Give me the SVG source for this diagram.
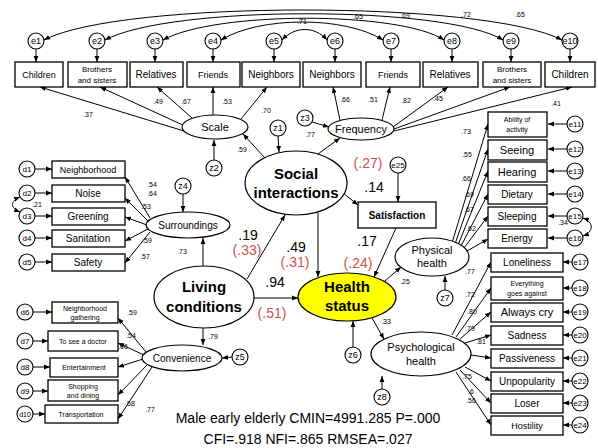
<svg xmlns="http://www.w3.org/2000/svg" width="598" height="448" viewBox="0 0 598 448">
<style>
.bg{fill:#fff}
.box{fill:#fff;stroke:#000;stroke-width:1.3}
.el{fill:#fff;stroke:#000;stroke-width:1.2}
.c{fill:#fff;stroke:#000;stroke-width:1.1}
.hs{fill:#ffff00;stroke:#000;stroke-width:1.2}
.ln{fill:none;stroke:#000;stroke-width:1;marker-end:url(#ah)}
.cv{fill:none;stroke:#000;stroke-width:1;marker-end:url(#ah);marker-start:url(#ah)}
text{font-family:"Liberation Sans",Arial,sans-serif;text-anchor:middle;fill:#000}
.s9{font-size:9px}
.s8{font-size:8px}
.s7{font-size:7px}
.s10{font-size:10px}
.s11{font-size:11px}
.n{font-size:7px}
.big{font-size:15px;font-weight:bold}
.eff{font-size:14px}
.red{font-size:14px;fill:#d0504a}
.ttl{font-size:14px}
</style>
<defs>
<marker id="ah" viewBox="0 0 10 10" refX="10" refY="5" markerWidth="6" markerHeight="6" markerUnits="userSpaceOnUse" orient="auto-start-reverse"><path d="M0,1 L10,5 L0,9 z"/></marker>
</defs>
<rect class="bg" x="0" y="0" width="598" height="448"/>

<g id="connectors">
<!-- top covariances -->
<path class="cv" d="M44,40 C120,0 486,0 562,40"/>
<path class="cv" d="M105,40 C170,5 446,5 503,40"/>
<path class="cv" d="M163,40 C215,11 400,11 444,40"/>
<path class="cv" d="M221,40 C260,16 345,16 383,40"/>
<path class="cv" d="M282,40 C295,26 315,26 327,40"/>
<!-- e to top boxes -->
<path class="ln" d="M36,49 L36,62"/>
<path class="ln" d="M97,49 L97,62"/>
<path class="ln" d="M155,49 L155,62"/>
<path class="ln" d="M213,49 L213,62"/>
<path class="ln" d="M274,49 L274,62"/>
<path class="ln" d="M335,49 L335,62"/>
<path class="ln" d="M391,49 L391,62"/>
<path class="ln" d="M452,49 L452,62"/>
<path class="ln" d="M511,49 L511,62"/>
<path class="ln" d="M570,49 L570,62"/>
<!-- Scale to boxes -->
<path class="ln" d="M184,131 L40,87"/>
<path class="ln" d="M185,126 L100,87"/>
<path class="ln" d="M192,118 L157,87"/>
<path class="ln" d="M213,115 L213,87"/>
<path class="ln" d="M241,119 L267,87"/>
<!-- Frequency to boxes -->
<path class="ln" d="M340,120 L333,87"/>
<path class="ln" d="M382,120 L390,87"/>
<path class="ln" d="M393,127 L448,87"/>
<path class="ln" d="M394,129 L510,87"/>
<path class="ln" d="M394,131 L572,87"/>
<!-- z arrows -->
<path class="ln" d="M278,136 L279,152"/>
<path class="ln" d="M214,160 L214,140"/>
<path class="ln" d="M312,122 L329,127"/>
<path class="ln" d="M265,158 L243,134"/>
<path class="ln" d="M318,154 L340,138"/>
<path class="ln" d="M398,173 L398,202"/>
<path class="ln" d="M343,193 L358,205"/>
<path class="ln" d="M318,213 L318,277"/>
<path class="ln" d="M396,228 L374,277"/>
<path class="ln" d="M247,279 L285,215"/>
<path class="ln" d="M254,298 L298,298"/>
<path class="ln" d="M203,266 L203,238"/>
<path class="ln" d="M203,328 L203,345"/>
<path class="ln" d="M183,194 L183,212"/>
<path class="ln" d="M232,357 L222,358"/>
<path class="ln" d="M385,281 L401,267"/>
<path class="ln" d="M445,290 L445,276"/>
<path class="ln" d="M372,318 L384,339"/>
<path class="ln" d="M353,347 L353,321"/>
<path class="ln" d="M382,389 L382,376"/>
<!-- Physical to indicators -->
<path class="ln" d="M452,243 L488,124"/>
<path class="ln" d="M455,244 L488,149"/>
<path class="ln" d="M458,245 L488,171"/>
<path class="ln" d="M461,246 L488,194"/>
<path class="ln" d="M464,248 L488,216"/>
<path class="ln" d="M467,251 L488,239"/>
<!-- e to physical boxes -->
<path class="ln" d="M567,124 L548,124"/>
<path class="ln" d="M567,149 L548,149"/>
<path class="ln" d="M567,171 L548,171"/>
<path class="ln" d="M567,194 L548,194"/>
<path class="ln" d="M567,216 L548,216"/>
<path class="ln" d="M567,238 L548,238"/>
<path class="cv" d="M583,218 C594,222 594,232 583,236"/>
<!-- Psych to indicators -->
<path class="ln" d="M452,335 L491,262"/>
<path class="ln" d="M456,337 L491,288"/>
<path class="ln" d="M460,339 L491,312"/>
<path class="ln" d="M465,343 L491,335"/>
<path class="ln" d="M471,355 L491,358"/>
<path class="ln" d="M465,367 L491,381"/>
<path class="ln" d="M460,370 L491,403"/>
<path class="ln" d="M456,372 L491,425"/>
<!-- e to psych boxes -->
<path class="ln" d="M572,262 L563,262"/>
<path class="ln" d="M572,288 L563,288"/>
<path class="ln" d="M572,312 L563,312"/>
<path class="ln" d="M572,335 L563,335"/>
<path class="ln" d="M572,358 L563,358"/>
<path class="ln" d="M572,381 L563,381"/>
<path class="ln" d="M572,403 L563,403"/>
<path class="ln" d="M572,425 L563,425"/>
<!-- d to left boxes -->
<path class="ln" d="M35,169 L52,169"/>
<path class="ln" d="M35,193 L52,193"/>
<path class="ln" d="M35,216 L52,216"/>
<path class="ln" d="M35,238 L52,238"/>
<path class="ln" d="M35,262 L52,262"/>
<path class="cv" d="M20,197 C10,201 10,208 20,212"/>
<!-- Surroundings to boxes -->
<path class="ln" d="M150,218 L125,177"/>
<path class="ln" d="M148,221 L125,198"/>
<path class="ln" d="M147,225 L125,217"/>
<path class="ln" d="M148,229 L125,241"/>
<path class="ln" d="M150,232 L125,263"/>
<!-- d to lower left boxes -->
<path class="ln" d="M33,312 L52,312"/>
<path class="ln" d="M33,341 L48,341"/>
<path class="ln" d="M33,367 L50,367"/>
<path class="ln" d="M33,391 L48,391"/>
<path class="ln" d="M33,414 L45,414"/>
<!-- Convenience to boxes -->
<path class="ln" d="M146,352 L118,318"/>
<path class="ln" d="M144,355 L118,343"/>
<path class="ln" d="M143,359 L118,367"/>
<path class="ln" d="M148,364 L118,395"/>
<path class="ln" d="M152,367 L118,419"/>
</g>

<g id="top-errors">
<circle class="c" cx="36" cy="41" r="8"/><text class="s9" x="36" y="44">e1</text>
<circle class="c" cx="97" cy="41" r="8"/><text class="s9" x="97" y="44">e2</text>
<circle class="c" cx="155" cy="41" r="8"/><text class="s9" x="155" y="44">e3</text>
<circle class="c" cx="213" cy="41" r="8"/><text class="s9" x="213" y="44">e4</text>
<circle class="c" cx="274" cy="41" r="8"/><text class="s9" x="274" y="44">e5</text>
<circle class="c" cx="335" cy="41" r="8"/><text class="s9" x="335" y="44">e6</text>
<circle class="c" cx="391" cy="41" r="8"/><text class="s9" x="391" y="44">e7</text>
<circle class="c" cx="452" cy="41" r="8"/><text class="s9" x="452" y="44">e8</text>
<circle class="c" cx="511" cy="41" r="8"/><text class="s9" x="511" y="44">e9</text>
<circle class="c" cx="570" cy="41" r="8"/><text class="s9" x="570" y="44">e10</text>
</g>
<g id="top-labels">
<text class="n" x="302" y="24">.71</text>
<text class="n" x="358" y="19">.65</text>
<text class="n" x="405" y="18">.69</text>
<text class="n" x="466" y="17">.72</text>
<text class="n" x="520" y="17">.65</text>
</g>

<g id="box-children-l"><rect class="box" x="15" y="62" width="48" height="25"/><text class="s9" x="39" y="78">Children</text></g>
<g id="box-brothers-l"><rect class="box" x="68" y="62" width="59" height="25"/><text class="s8" x="97" y="72">Brothers</text><text class="s8" x="97" y="83">and sisters</text></g>
<g id="box-relatives-l"><rect class="box" x="130" y="62" width="53" height="25"/><text class="s10" x="156" y="78">Relatives</text></g>
<g id="box-friends-l"><rect class="box" x="187" y="62" width="53" height="25"/><text class="s9" x="213" y="78">Friends</text></g>
<g id="box-neighbors-l"><rect class="box" x="242" y="62" width="58" height="25"/><text class="s10" x="271" y="78">Neighbors</text></g>
<g id="box-neighbors-r"><rect class="box" x="303" y="62" width="58" height="25"/><text class="s10" x="332" y="78">Neighbors</text></g>
<g id="box-friends-r"><rect class="box" x="366" y="62" width="54" height="25"/><text class="s9" x="393" y="78">Friends</text></g>
<g id="box-relatives-r"><rect class="box" x="423" y="62" width="55" height="25"/><text class="s10" x="450" y="78">Relatives</text></g>
<g id="box-brothers-r"><rect class="box" x="483" y="62" width="58" height="25"/><text class="s8" x="512" y="72">Brothers</text><text class="s8" x="512" y="83">and sisters</text></g>
<g id="box-children-r"><rect class="box" x="545" y="62" width="50" height="25"/><text class="s10" x="570" y="78">Children</text></g>

<g id="scale"><ellipse class="el" cx="215" cy="127" rx="33" ry="12"/><text class="s11" x="215" y="131">Scale</text></g>
<g id="frequency"><ellipse class="el" cx="361" cy="129" rx="33" ry="11"/><text class="s11" x="361" y="133">Frequency</text></g>
<g id="scale-labels">
<text class="n" x="88" y="117">.37</text>
<text class="n" x="158" y="104">.49</text>
<text class="n" x="186" y="104">.67</text>
<text class="n" x="227" y="104">.53</text>
<text class="n" x="266" y="113">.70</text>
<text class="n" x="345" y="102">.66</text>
<text class="n" x="373" y="102">.51</text>
<text class="n" x="406" y="103">.82</text>
<text class="n" x="438" y="101">.45</text>
<text class="n" x="556" y="106">.41</text>
<text class="n" x="310" y="137">.77</text>
<text class="n" x="242" y="152">.59</text>
</g>
<g id="z1"><circle class="c" cx="278" cy="128" r="8"/><text class="s9" x="278" y="131">z1</text></g>
<g id="z2"><circle class="c" cx="214" cy="168" r="8"/><text class="s9" x="214" y="171">z2</text></g>
<g id="z3"><circle class="c" cx="305" cy="118" r="8"/><text class="s9" x="305" y="121">z3</text></g>

<g id="social"><ellipse class="el" cx="296" cy="183" rx="51" ry="32"/><text class="big" x="296" y="179">Social</text><text class="big" x="296" y="198">interactions</text></g>
<g id="e25"><circle class="c" cx="398" cy="165" r="8"/><text class="s8" x="398" y="168">e25</text></g>
<g id="satisfaction"><rect class="box" x="358" y="202" width="78" height="26"/><text class="s10" style="font-weight:bold" x="397" y="219">Satisfaction</text></g>

<g id="health"><ellipse class="hs" cx="347" cy="297" rx="49" ry="24"/><text class="big" x="347" y="292">Health</text><text class="big" x="347" y="311">status</text></g>
<g id="living"><ellipse class="el" cx="204" cy="297" rx="50" ry="31"/><text class="big" x="204" y="292">Living</text><text class="big" x="204" y="312">conditions</text></g>

<g id="effects">
<text class="eff" x="248" y="240">.19</text>
<text class="red" x="247" y="255">(.33)</text>
<text class="eff" x="296" y="252">.49</text>
<text class="red" x="295" y="267">(.31)</text>
<text class="eff" x="275" y="287">.94</text>
<text class="red" x="272" y="318">(.51)</text>
<text class="eff" x="367" y="246">.17</text>
<text class="red" x="358" y="268">(.24)</text>
<text class="red" x="368" y="168">(.27)</text>
<text class="eff" x="374" y="192">.14</text>
</g>

<g id="surroundings"><ellipse class="el" cx="188" cy="225" rx="42" ry="13"/><text class="s10" x="188" y="229">Surroundings</text></g>
<g id="z4"><circle class="c" cx="183" cy="186" r="8"/><text class="s9" x="183" y="189">z4</text></g>
<g id="convenience"><ellipse class="el" cx="182" cy="358" rx="40" ry="13"/><text class="s10" x="182" y="362">Convenience</text></g>
<g id="z5"><circle class="c" cx="240" cy="357" r="8"/><text class="s9" x="240" y="360">z5</text></g>
<g id="living-labels">
<text class="n" x="182" y="254">.73</text>
<text class="n" x="213" y="339">.79</text>
</g>

<g id="box-neighborhood"><rect class="box" x="52" y="161" width="73" height="17"/><text class="s9" x="88" y="173">Neighborhood</text></g>
<g id="box-noise"><rect class="box" x="52" y="185" width="73" height="17"/><text class="s10" x="88" y="197">Noise</text></g>
<g id="box-greening"><rect class="box" x="52" y="208" width="73" height="17"/><text class="s10" x="88" y="220">Greening</text></g>
<g id="box-sanitation"><rect class="box" x="52" y="230" width="73" height="17"/><text class="s10" x="88" y="242">Sanitation</text></g>
<g id="box-safety"><rect class="box" x="52" y="254" width="73" height="17"/><text class="s10" x="88" y="266">Safety</text></g>
<g id="d1"><circle class="c" cx="27" cy="169" r="8"/><text class="s8" x="27" y="172">d1</text></g>
<g id="d2"><circle class="c" cx="27" cy="193" r="8"/><text class="s8" x="27" y="196">d2</text></g>
<g id="d3"><circle class="c" cx="27" cy="216" r="8"/><text class="s8" x="27" y="219">d3</text></g>
<g id="d4"><circle class="c" cx="27" cy="238" r="8"/><text class="s8" x="27" y="241">d4</text></g>
<g id="d5"><circle class="c" cx="27" cy="262" r="8"/><text class="s8" x="27" y="265">d5</text></g>
<g id="surr-labels">
<text class="n" x="152" y="187">.54</text>
<text class="n" x="152" y="196">.64</text>
<text class="n" x="146" y="209">.53</text>
<text class="n" x="147" y="243">.59</text>
<text class="n" x="145" y="259">.57</text>
<text class="n" x="37" y="207">.21</text>
</g>

<g id="box-gathering"><rect class="box" x="52" y="302" width="66" height="21"/><text class="s7" x="85" y="311">Neighborhood</text><text class="s7" x="85" y="320">gathering</text></g>
<g id="box-doctor"><rect class="box" x="48" y="331" width="70" height="20"/><text class="s7" x="83" y="344">To see a doctor</text></g>
<g id="box-entertainment"><rect class="box" x="50" y="358" width="68" height="19"/><text class="s7" x="84" y="370">Entertainment</text></g>
<g id="box-shopping"><rect class="box" x="48" y="380" width="70" height="21"/><text class="s7" x="83" y="389">Shopping</text><text class="s7" x="83" y="398">and dining</text></g>
<g id="box-transport"><rect class="box" x="45" y="405" width="73" height="18"/><text class="s7" x="81" y="417">Transportation</text></g>
<g id="d6"><circle class="c" cx="25" cy="312" r="8"/><text class="s8" x="25" y="315">d6</text></g>
<g id="d7"><circle class="c" cx="25" cy="341" r="8"/><text class="s8" x="25" y="344">d7</text></g>
<g id="d8"><circle class="c" cx="25" cy="367" r="8"/><text class="s8" x="25" y="370">d8</text></g>
<g id="d9"><circle class="c" cx="25" cy="391" r="8"/><text class="s8" x="25" y="394">d9</text></g>
<g id="d10"><circle class="c" cx="25" cy="414" r="8"/><text class="s7" x="25" y="417">d10</text></g>
<g id="conv-labels">
<text class="n" x="132" y="315">.59</text>
<text class="n" x="131" y="338">.54</text>
<text class="n" x="123" y="349">.66</text>
<text class="n" x="130" y="406">.58</text>
</g>

<g id="physical"><ellipse class="el" cx="432" cy="257" rx="37" ry="19"/><text class="s11" x="432" y="254">Physical</text><text class="s11" x="432" y="267">health</text></g>
<g id="psych"><ellipse class="el" cx="421" cy="354" rx="50" ry="22"/><text class="s11" x="421" y="351">Psychological</text><text class="s11" x="421" y="365">health</text></g>
<g id="z6"><circle class="c" cx="353" cy="355" r="8"/><text class="s9" x="353" y="358">z6</text></g>
<g id="z7"><circle class="c" cx="445" cy="298" r="8"/><text class="s9" x="445" y="301">z7</text></g>
<g id="z8"><circle class="c" cx="382" cy="397" r="8"/><text class="s9" x="382" y="400">z8</text></g>
<g id="health-labels">
<text class="n" x="405" y="284">.25</text>
<text class="n" x="386" y="324">.33</text>
<text class="n" x="470" y="274">.77</text>
</g>

<g id="box-ability"><rect class="box" x="488" y="112" width="59" height="25"/><text class="s7" x="517" y="122">Ability of</text><text class="s7" x="517" y="132">activity</text></g>
<g id="box-seeing"><rect class="box" x="488" y="140" width="59" height="20"/><text class="s11" x="517" y="154">Seeing</text></g>
<g id="box-hearing"><rect class="box" x="488" y="162" width="59" height="20"/><text class="s11" x="517" y="176">Hearing</text></g>
<g id="box-dietary"><rect class="box" x="488" y="185" width="59" height="19"/><text class="s10" x="517" y="198">Dietary</text></g>
<g id="box-sleeping"><rect class="box" x="488" y="207" width="59" height="19"/><text class="s10" x="517" y="220">Sleeping</text></g>
<g id="box-energy"><rect class="box" x="488" y="229" width="59" height="19"/><text class="s10" x="517" y="242">Energy</text></g>
<g id="e11"><circle class="c" cx="575" cy="124" r="8"/><text class="s8" x="575" y="127">e11</text></g>
<g id="e12"><circle class="c" cx="575" cy="149" r="8"/><text class="s8" x="575" y="152">e12</text></g>
<g id="e13"><circle class="c" cx="575" cy="171" r="8"/><text class="s8" x="575" y="174">e13</text></g>
<g id="e14"><circle class="c" cx="575" cy="194" r="8"/><text class="s8" x="575" y="197">e14</text></g>
<g id="e15"><circle class="c" cx="575" cy="216" r="8"/><text class="s8" x="575" y="219">e15</text></g>
<g id="e16"><circle class="c" cx="575" cy="238" r="8"/><text class="s8" x="575" y="241">e16</text></g>
<g id="phys-labels">
<text class="n" x="466" y="134">.73</text>
<text class="n" x="467" y="157">.55</text>
<text class="n" x="466" y="181">.66</text>
<text class="n" x="469" y="197">.69</text>
<text class="n" x="469" y="212">.67</text>
<text class="n" x="471" y="231">.62</text>
<text class="n" x="563" y="225">.34</text>
</g>

<g id="box-loneliness"><rect class="box" x="491" y="253" width="72" height="19"/><text class="s10" x="527" y="266">Loneliness</text></g>
<g id="box-everything"><rect class="box" x="491" y="277" width="72" height="23"/><text class="s7" x="527" y="286">Everything</text><text class="s7" x="527" y="296">goes against</text></g>
<g id="box-cry"><rect class="box" x="491" y="303" width="72" height="19"/><text class="s11" x="527" y="316">Always cry</text></g>
<g id="box-sadness"><rect class="box" x="491" y="326" width="72" height="19"/><text class="s10" x="527" y="339">Sadness</text></g>
<g id="box-passiveness"><rect class="box" x="491" y="349" width="72" height="19"/><text class="s10" x="527" y="362">Passiveness</text></g>
<g id="box-unpopularity"><rect class="box" x="491" y="372" width="72" height="19"/><text class="s10" x="527" y="385">Unpopularity</text></g>
<g id="box-loser"><rect class="box" x="491" y="394" width="72" height="19"/><text class="s10" x="527" y="407">Loser</text></g>
<g id="box-hostility"><rect class="box" x="491" y="416" width="72" height="19"/><text class="s9" x="527" y="429">Hostility</text></g>
<g id="e17"><circle class="c" cx="580" cy="262" r="8"/><text class="s8" x="580" y="265">e17</text></g>
<g id="e18"><circle class="c" cx="580" cy="288" r="8"/><text class="s8" x="580" y="291">e18</text></g>
<g id="e19"><circle class="c" cx="580" cy="312" r="8"/><text class="s8" x="580" y="315">e19</text></g>
<g id="e20"><circle class="c" cx="580" cy="335" r="8"/><text class="s8" x="580" y="338">e20</text></g>
<g id="e21"><circle class="c" cx="580" cy="358" r="8"/><text class="s8" x="580" y="361">e21</text></g>
<g id="e22"><circle class="c" cx="580" cy="381" r="8"/><text class="s8" x="580" y="384">e22</text></g>
<g id="e23"><circle class="c" cx="580" cy="403" r="8"/><text class="s8" x="580" y="406">e23</text></g>
<g id="e24"><circle class="c" cx="580" cy="425" r="8"/><text class="s8" x="580" y="428">e24</text></g>
<g id="psych-labels">
<text class="n" x="470" y="297">.72</text>
<text class="n" x="472" y="314">.80</text>
<text class="n" x="470" y="331">.79</text>
<text class="n" x="481" y="344">.81</text>
<text class="n" x="467" y="379">.75</text>
<text class="n" x="471" y="394">.6</text>
<text class="n" x="471" y="403">.56</text>
</g>

<g id="fit">
<text class="n" x="150" y="412">.77</text>
<text class="ttl" x="308" y="423">Male early elderly CMIN=4991.285 P=.000</text>
<text class="ttl" x="308" y="444">CFI=.918 NFI=.865  RMSEA=.027</text>
</g>
</svg>
